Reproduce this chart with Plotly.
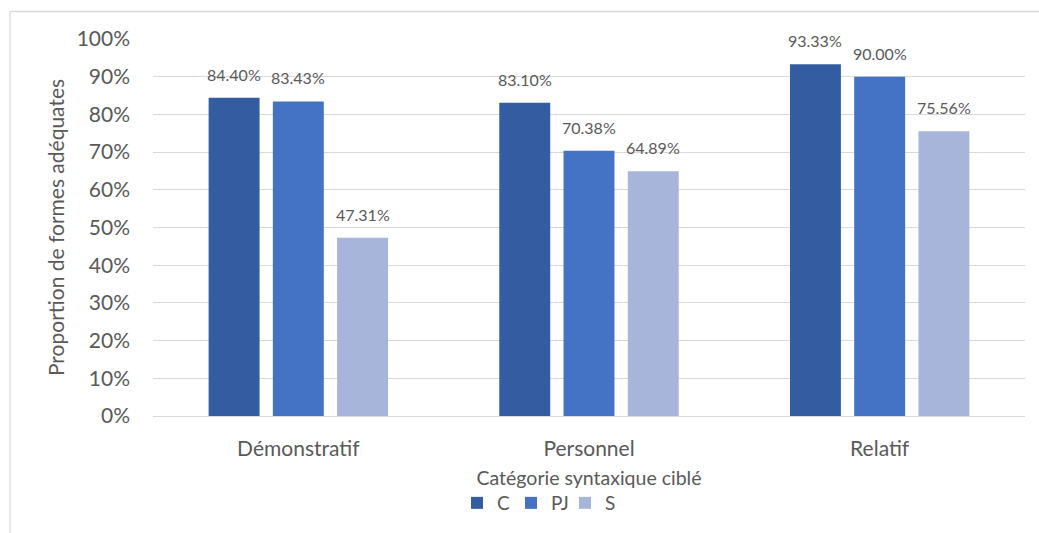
import plotly.graph_objects as go

categories = ["Démonstratif", "Personnel", "Relatif"]
series_names = ["C", "PJ", "S"]
values_C = [0.8440, 0.8310, 0.9333]
values_PJ = [0.8343, 0.7038, 0.9000]
values_S = [0.4731, 0.6489, 0.7556]
colors = ["#335CA1", "#4472C4", "#A7B5DA"]
y_ticks = [i / 10 for i in range(11)]

series_values = [values_C, values_PJ, values_S]

FONT = "Lato"
TXT = "#595959"

W, H = 1039, 533
ml, mr, mt, mb = 153, 14, 39, 117
bargap = 0.337
bargroupgap = 0.207

fig = go.Figure()
for name, vals, col in zip(series_names, series_values, colors):
    fig.add_trace(go.Bar(
        name=name, x=categories, y=vals,
        marker=dict(color=col, line=dict(width=0)),
    ))

plot_w = W - ml - mr
plot_h = H - mt - mb
cat_w = plot_w / len(categories)
slot = cat_w * (1 - bargap) / len(series_names)
annotations = []
for si, vals in enumerate(series_values):
    for ci, v in enumerate(vals):
        annotations.append(dict(
            x=categories[ci], y=v, xref="x", yref="y",
            text=f"{v*100:.2f}%", showarrow=False,
            xshift=(si - 1) * slot, yanchor="bottom", yshift=12,
            font=dict(family=FONT, size=16, color=TXT),
        ))

bx = -(ml - 10) / plot_w
by = 1 + (mt - 11.5) / plot_h

fig.update_layout(
    width=W, height=H,
    margin=dict(l=ml, r=mr, t=mt, b=mb, pad=0, autoexpand=False),
    paper_bgcolor="white", plot_bgcolor="white",
    barmode="group", bargap=bargap, bargroupgap=bargroupgap,
    font=dict(family=FONT, color=TXT),
    annotations=annotations,
    legend=dict(
        orientation="h", x=(457 - ml) / plot_w, y=-(503 - mt - plot_h) / plot_h,
        xanchor="left", yanchor="middle",
        font=dict(family=FONT, size=19, color=TXT),
        itemwidth=30, tracegroupgap=0,
        entrywidthmode="pixels", entrywidth=9,
    ),
    showlegend=True,
    shapes=[
        dict(type="line", xref="paper", yref="paper",
             x0=bx, x1=1 + mr / plot_w + 0.01, y0=by, y1=by,
             line=dict(color="#D9D9D9", width=1.3)),
        dict(type="line", xref="paper", yref="paper",
             x0=bx, x1=bx, y0=by, y1=-mb / plot_h - 0.01,
             line=dict(color="#D9D9D9", width=1.3)),
    ],
)

fig.update_xaxes(
    showgrid=False, showline=False, ticks="", automargin=False,
    ticklabelstandoff=18,
    tickfont=dict(family=FONT, size=21, color=TXT),
    title=dict(text="Catégorie syntaxique ciblé",
               font=dict(family=FONT, size=19.5, color=TXT), standoff=12),
)
fig.update_yaxes(
    range=[0, 1.0], tickvals=y_ticks, tickformat=".0%", automargin=False,
    showgrid=True, gridcolor="#D9D9D9", gridwidth=1.3,
    zeroline=True, zerolinecolor="#D9D9D9", zerolinewidth=1.3,
    showline=False, ticks="", ticklabelstandoff=22,
    tickfont=dict(family=FONT, size=21, color=TXT),
    title=dict(text="Proportion de formes adéquates",
               font=dict(family=FONT, size=21, color=TXT), standoff=6),
)

fig.write_html("out.html", config={"displayModeBar": False},
               post_script="document.body.style.margin='0';document.body.style.overflow='hidden';")
